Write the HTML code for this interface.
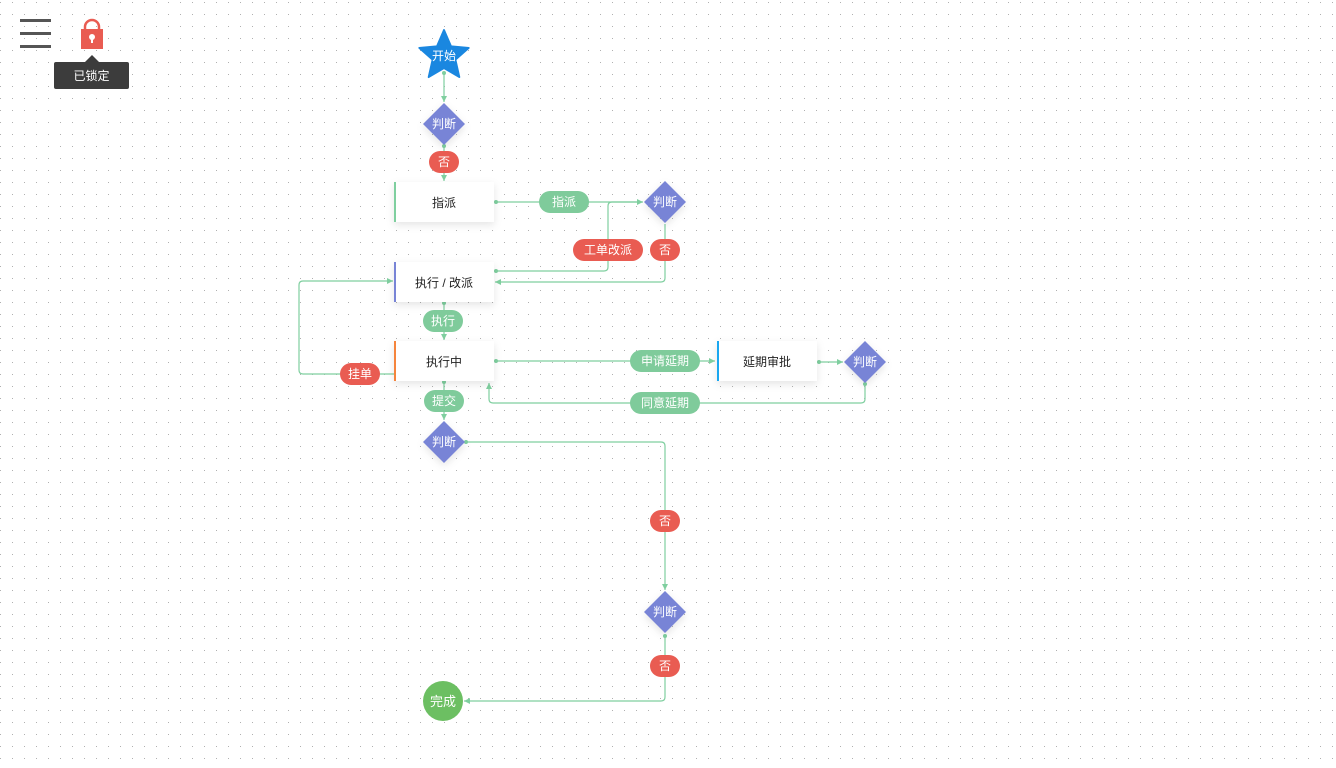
<!DOCTYPE html>
<html><head><meta charset="utf-8"><style>
html,body{margin:0;padding:0;width:1336px;height:768px;overflow:hidden;background:#fff;}
svg{display:block}
text{font-family:"Liberation Sans","Noto Sans CJK SC",sans-serif;}
</style></head><body>
<svg width="1336" height="768" viewBox="0 0 1336 768" xmlns="http://www.w3.org/2000/svg">
<defs>
<pattern id="dots" width="12" height="12" patternUnits="userSpaceOnUse" x="0" y="0">
<rect x="0" y="2" width="1" height="1" fill="#b0b0b0"/>
</pattern>
<marker id="ar" markerWidth="8" markerHeight="8" refX="6" refY="4" orient="auto" markerUnits="userSpaceOnUse">
<path d="M0,1 L6,4 L0,7 z" fill="#7fcf9f"/>
</marker>
<filter id="sh" x="-30%" y="-30%" width="160%" height="180%"><feDropShadow dx="0" dy="3" stdDeviation="4" flood-color="#000" flood-opacity="0.1"/></filter>
</defs>
<rect width="1336" height="768" fill="url(#dots)"/>

<rect x="20" y="19" width="31" height="3" fill="#555"/>
<rect x="20" y="32" width="31" height="3" fill="#555"/>
<rect x="20" y="45" width="31" height="3" fill="#555"/>
<path d="M85,30 V27 a7,7 0 0 1 14,0 V30" fill="none" stroke="#e95c52" stroke-width="2.5"/>
<rect x="81" y="29" width="22" height="20" fill="#e95c52"/>
<circle cx="92" cy="37" r="3" fill="#fff"/>
<rect x="91" y="38" width="2" height="5" fill="#fff"/>
<path d="M85,62 L92,55 L99,62 z" fill="#3c3c3c"/>
<rect x="54" y="62" width="75" height="27" rx="2" fill="#3c3c3c"/>
<text x="91.5" y="80" font-size="12" fill="#fff" text-anchor="middle">已锁定</text>

<g fill="none" stroke="#7fcf9f" stroke-width="1.2">
<path d="M444,73 V102" marker-end="url(#ar)"/>
<path d="M444,146 V181" marker-end="url(#ar)"/>
<path d="M496,202 H643" marker-end="url(#ar)"/>
<path d="M642,202 H612 q-4,0 -4,4 V267 q0,4 -4,4 H496"/>
<path d="M665,224 V278 q0,4 -4,4 H495" marker-end="url(#ar)"/>
<path d="M444,303 V340" marker-end="url(#ar)"/>
<path d="M394,374 H303 q-4,0 -4,-4 V285 q0,-4 4,-4 H393" marker-end="url(#ar)"/>
<path d="M496,361 H715" marker-end="url(#ar)"/>
<path d="M819,362 H843" marker-end="url(#ar)"/>
<path d="M865,384 V399 q0,4 -4,4 H493 q-4,0 -4,-4 V383" marker-end="url(#ar)"/>
<path d="M444,382 V420" marker-end="url(#ar)"/>
<path d="M466,442 H661 q4,0 4,4 V590" marker-end="url(#ar)"/>
<path d="M665,635 V697 q0,4 -4,4 H464" marker-end="url(#ar)"/>
</g>
<g fill="#7fcf9f">
<circle cx="444" cy="73" r="2"/><circle cx="444" cy="146" r="2"/><circle cx="496" cy="202" r="2"/>
<circle cx="496" cy="271" r="2"/><circle cx="444" cy="303" r="2"/><circle cx="496" cy="361" r="2"/>
<circle cx="819" cy="362" r="2"/><circle cx="865" cy="384" r="2"/><circle cx="444" cy="382" r="2"/>
<circle cx="466" cy="442" r="2"/><circle cx="665" cy="636" r="2"/>
</g>

<g transform="translate(444,56) scale(0.93)">
<polygon points="0,-28 7.6,-10.4 26.6,-8.7 12.3,4 16.5,22.7 0,13 -16.5,22.7 -12.3,4 -26.6,-8.7 -7.6,-10.4" fill="#1a87e0" stroke="#1a87e0" stroke-width="2" stroke-linejoin="round"/>
</g>
<text x="444" y="60" font-size="12" fill="#fff" text-anchor="middle">开始</text>

<g font-size="12" fill="#fff" text-anchor="middle">
<g filter="url(#sh)"><polygon points="444,103 465,124 444,145 423,124" fill="#7884d6"/></g>
<text x="444" y="128">判断</text>
<g filter="url(#sh)"><polygon points="665,181 686,202 665,223 644,202" fill="#7884d6"/></g>
<text x="665" y="206">判断</text>
<g filter="url(#sh)"><polygon points="865,341 886,362 865,383 844,362" fill="#7884d6"/></g>
<text x="865" y="366">判断</text>
<g filter="url(#sh)"><polygon points="444,421 465,442 444,463 423,442" fill="#7884d6"/></g>
<text x="444" y="446">判断</text>
<g filter="url(#sh)"><polygon points="665,591 686,612 665,633 644,612" fill="#7884d6"/></g>
<text x="665" y="616">判断</text>
</g>

<g font-size="12" text-anchor="middle">
<g filter="url(#sh)"><rect x="394" y="182" width="100" height="40" fill="#fff"/></g>
<rect x="394" y="182" width="2" height="40" fill="#7fcf9f"/>
<text x="444" y="207" fill="#222">指派</text>
<g filter="url(#sh)"><rect x="394" y="262" width="100" height="40" fill="#fff"/></g>
<rect x="394" y="262" width="2" height="40" fill="#7884d6"/>
<text x="444" y="287" fill="#222">执行 / 改派</text>
<g filter="url(#sh)"><rect x="394" y="341" width="100" height="40" fill="#fff"/></g>
<rect x="394" y="341" width="2" height="40" fill="#f5843c"/>
<text x="444" y="366" fill="#222">执行中</text>
<g filter="url(#sh)"><rect x="717" y="341" width="100" height="40" fill="#fff"/></g>
<rect x="717" y="341" width="2" height="40" fill="#1aa7f0"/>
<text x="767" y="366" fill="#222">延期审批</text>
</g>

<g font-size="12" fill="#fff" text-anchor="middle">
<rect x="429" y="151" width="30" height="22" rx="11" fill="#e95c52"/><text x="444" y="166">否</text>
<rect x="539" y="191" width="50" height="22" rx="11" fill="#7fcb9b"/><text x="564" y="206">指派</text>
<rect x="573" y="239" width="70" height="22" rx="11" fill="#e95c52"/><text x="608" y="254">工单改派</text>
<rect x="650" y="239" width="30" height="22" rx="11" fill="#e95c52"/><text x="665" y="254">否</text>
<rect x="423" y="310" width="40" height="22" rx="11" fill="#7fcb9b"/><text x="443" y="325">执行</text>
<rect x="340" y="363" width="40" height="22" rx="11" fill="#e95c52"/><text x="360" y="378">挂单</text>
<rect x="424" y="390" width="40" height="22" rx="11" fill="#7fcb9b"/><text x="444" y="405">提交</text>
<rect x="630" y="350" width="70" height="22" rx="11" fill="#7fcb9b"/><text x="665" y="365">申请延期</text>
<rect x="630" y="392" width="70" height="22" rx="11" fill="#7fcb9b"/><text x="665" y="407">同意延期</text>
<rect x="650" y="510" width="30" height="22" rx="11" fill="#e95c52"/><text x="665" y="525">否</text>
<rect x="650" y="655" width="30" height="22" rx="11" fill="#e95c52"/><text x="665" y="670">否</text>
</g>

<circle cx="443" cy="701" r="20" fill="#6cbf62"/>
<text x="443" y="706" font-size="13" fill="#fff" text-anchor="middle">完成</text>
</svg>
</body></html>
